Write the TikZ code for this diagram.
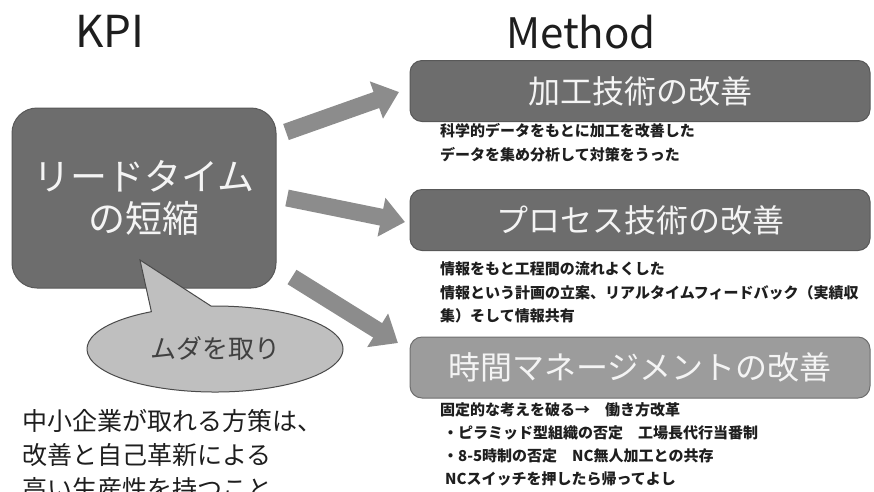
\documentclass[tikz,border=0pt]{standalone}
\usepackage{fontspec}
\setmainfont{Noto Sans CJK JP}
\usetikzlibrary{arrows.meta,shapes.callouts,shapes.geometric}
\definecolor{boxdark}{HTML}{6D6D6D}
\definecolor{boxdarkline}{HTML}{585858}
\definecolor{boxlight}{HTML}{9C9C9C}
\definecolor{boxlightline}{HTML}{6E6E6E}
\definecolor{arrowgray}{HTML}{8C8C8C}
\definecolor{bubblefill}{HTML}{BFBFBF}
\definecolor{bubbleline}{HTML}{4A4A4A}
\definecolor{inktext}{HTML}{1E1E1E}
\definecolor{boxtext}{HTML}{F4F4F4}
\newcommand{\fsz}[1]{\fontsize{#1}{#1}\selectfont}
\tikzset{
  title/.style={text=inktext, inner sep=0pt},
  mbox/.style={draw=boxdarkline, fill=boxdark, line width=1pt, rounded corners=12pt,
     minimum width=460pt, minimum height=61pt, text=boxtext, font=\fsz{32}, inner sep=0pt},
  lbox/.style={mbox, fill=boxlight, draw=boxlightline},
  note/.style={anchor=west, inner sep=0pt, text=inktext, font=\fsz{15}\bfseries},
  bigarrow/.style={draw=arrowgray, line width=17pt, -{Triangle[width=38pt,length=24pt]}},
  footnote/.style={anchor=west, inner sep=0pt, text=inktext, font=\fsz{25}}
}
\begin{document}
\begin{tikzpicture}[x=1pt,y=-1pt]
\useasboundingbox (0,0) rectangle (874,491);
\clip (0,0) rectangle (874,491);

\node[title, font=\fsz{44}] (kpi) at (110,31) {KPI};
\node[title, font=\fsz{42}] (method) at (581,32) {Method};

\node[draw=boxdarkline, fill=boxdark, line width=1pt, rounded corners=25pt,
      minimum width=264pt, minimum height=180pt, text=boxtext, font=\fsz{37},
      align=center, inner sep=0pt] (lead) at (144,198)
      {リードタイム\\[5pt]の短縮};

\node[mbox] (m1) at (640,91) {加工技術の改善};
\node[mbox] (m2) at (640,220) {プロセス技術の改善};
\node[lbox] (m3) at (640,367.5) {時間マネージメントの改善};

\coordinate (t1) at (286,132);
\coordinate (h1) at (399,92);
\coordinate (t2) at (287,198);
\coordinate (h2) at (405,222);
\coordinate (t3) at (292,277);
\coordinate (h3) at (398,343);
\draw[bigarrow] (t1) -- (h1);
\draw[bigarrow] (t2) -- (h2);
\draw[bigarrow] (t3) -- (h3);

\node[ellipse callout, callout absolute pointer={(140,260)}, callout pointer arc=28,
      draw=bubbleline, fill=bubblefill, line width=1pt,
      minimum width=256pt, minimum height=86pt, inner sep=0pt,
      font=\fsz{26}, text=inktext!85] (muda) at (215,349) {ムダを取り};

\node[note] (n11) at (440,131) {科学的データをもとに加工を改善した};
\node[note] (n12) at (440,155) {データを集め分析して対策をうった};

\node[note] (n21) at (440,269) {情報をもと工程間の流れよくした};
\node[note] (n22) at (440,293) {情報という計画の立案、リアルタイムフィードバック（実績収};
\node[note] (n23) at (440,316) {集）そして情報共有};

\node[note] (n31) at (440,410) {固定的な考えを破る→　働き方改革};
\node[note] (n32) at (443,433) {・ピラミッド型組織の否定　工場長代行当番制};
\node[note] (n33) at (443,456) {・8-5時制の否定　NC無人加工との共存};
\node[note] (n34) at (445,479) {NCスイッチを押したら帰ってよし};

\node[footnote] (f1) at (22,421) {中小企業が取れる方策は、};
\node[footnote] (f2) at (22,455) {改善と自己革新による};
\node[footnote] (f3) at (22,489) {高い生産性を持つこと};
\end{tikzpicture}
\end{document}
